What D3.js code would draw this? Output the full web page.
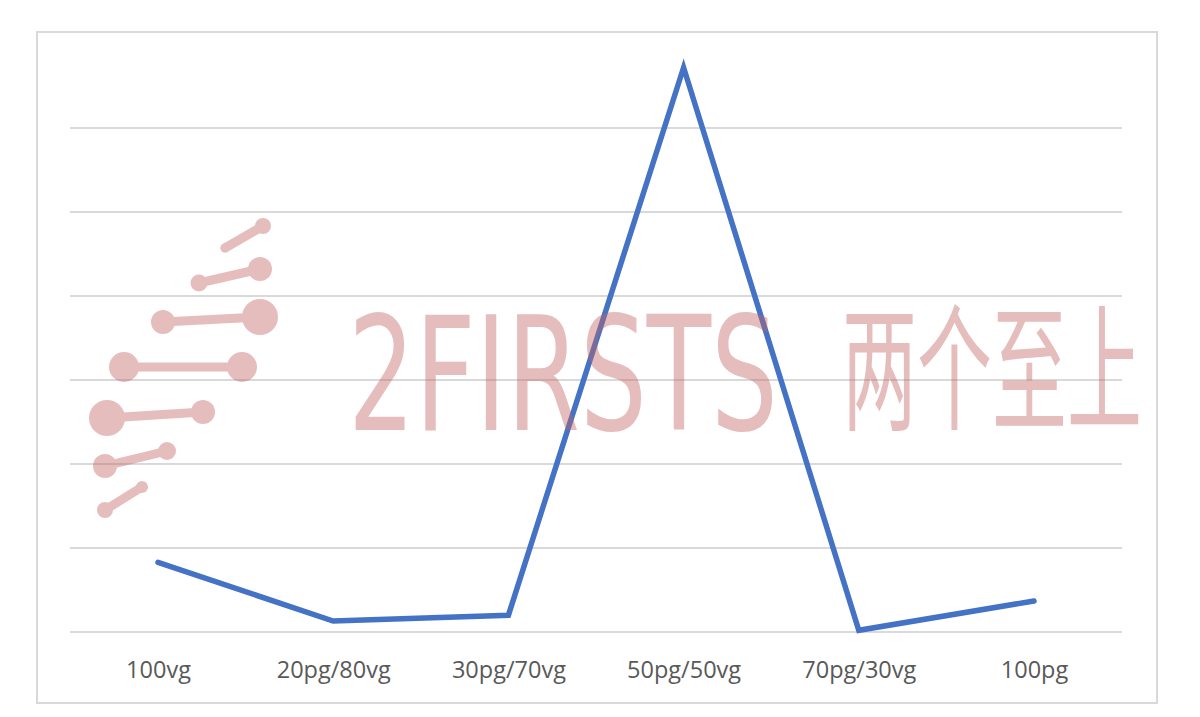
<!DOCTYPE html>
<html>
<head>
<meta charset="utf-8">
<script src="https://cdn.jsdelivr.net/npm/d3@7"></script>
<style>
  html, body { margin: 0; padding: 0; background: #fff; }
  svg { display: block; }
</style>
</head>
<body>
<svg id="chart" width="1200" height="717"></svg>
<script>
// ---- data ----
const categories = ["100vg", "20pg/80vg", "30pg/70vg", "50pg/50vg", "70pg/30vg", "100pg"];
const values = [0.83, 0.13, 0.2, 6.72, 0.02, 0.37];
const yTicks = [0, 1, 2, 3, 4, 5, 6];

// ---- decoration (watermark) ----
const molecules = [
  [[225, 248, 4.5], [263, 226, 8]],
  [[199, 283, 8.5], [260, 269, 12]],
  [[163, 322, 12], [260, 317, 18]],
  [[124, 367, 15], [242, 367, 15]],
  [[107, 418, 18], [203, 412, 12]],
  [[105, 466, 12], [167, 451, 9]],
  [[105, 510, 8], [142, 487, 6]]
];

const svg = d3.select("#chart");

// outer border
svg.append("rect")
  .attr("x", 37).attr("y", 32).attr("width", 1120).attr("height", 671)
  .attr("fill", "#fff").attr("stroke", "#d9d9d9").attr("stroke-width", 2);

const x = d3.scalePoint().domain(categories).range([158, 1034]);
const y = d3.scaleLinear().domain([0, 6]).range([632, 128]);

// gridlines
svg.append("g").selectAll("line").data(yTicks).join("line")
  .attr("x1", 70).attr("x2", 1122)
  .attr("y1", d => y(d)).attr("y2", d => y(d))
  .attr("stroke", "#d9d9d9").attr("stroke-width", 2);

// x axis labels
const xAxis = d3.axisBottom(x).tickSize(0).tickPadding(0);
const gx = svg.append("g").attr("transform", "translate(0,678)").call(xAxis);
gx.select(".domain").remove();
gx.selectAll("text")
  .attr("dy", 0)
  .attr("font-family", "'Open Sans', sans-serif")
  .attr("font-size", 23.5)
  .attr("fill", "#595959");

// line
const line = d3.line().x((d, i) => x(categories[i])).y(d => y(d));
svg.append("path").datum(values)
  .attr("d", line)
  .attr("fill", "none")
  .attr("stroke", "#4472c4")
  .attr("stroke-width", 5.5)
  .attr("stroke-linejoin", "miter")
  .attr("stroke-linecap", "round");

// watermark on top
const wm = svg.append("g").attr("opacity", 0.42);
const pink = "#c46262";
molecules.forEach(m => {
  wm.append("line")
    .attr("x1", m[0][0]).attr("y1", m[0][1])
    .attr("x2", m[1][0]).attr("y2", m[1][1])
    .attr("stroke", pink).attr("stroke-width", 9).attr("stroke-linecap", "round");
  m.forEach(c => wm.append("circle").attr("cx", c[0]).attr("cy", c[1]).attr("r", c[2]).attr("fill", pink));
});

function squeezed(str, x0, y0, size, family, targetW) {
  const g = wm.append("g");
  const t = g.append("text")
    .attr("x", 0).attr("y", 0)
    .attr("font-family", family)
    .attr("font-size", size)
    .attr("fill", pink)
    .text(str);
  const w = t.node().getComputedTextLength();
  g.attr("transform", `translate(${x0},${y0}) scale(${targetW / w},1)`);
}
squeezed("2FIRSTS", 348, 430, 159, "'DejaVu Sans', sans-serif", 430);
squeezed("两个至上", 842, 420, 137, "'Noto Sans CJK SC', sans-serif", 300);
</script>
</body>
</html>
